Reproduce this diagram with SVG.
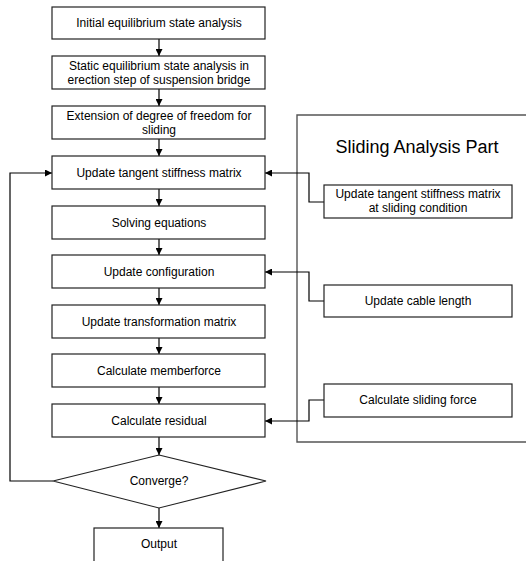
<svg xmlns="http://www.w3.org/2000/svg" width="526" height="561" viewBox="0 0 526 561">
<defs>
<marker id="ah" viewBox="0 0 10 10" refX="10" refY="5" markerWidth="7" markerHeight="7" markerUnits="userSpaceOnUse" orient="auto">
<path d="M0,0 L10,5 L0,10 z" fill="#000"/>
</marker>
<style>
.b{fill:#fff;stroke:#222;stroke-width:1.2}
.t{font-family:"Liberation Sans",Arial,sans-serif;font-size:12px;fill:#000;text-anchor:middle}
.c{fill:none;stroke:#000;stroke-width:1.2}
.f{fill:none;stroke:#555;stroke-width:1.4}
</style>
</defs>
<rect width="526" height="561" fill="#fff"/>
<g id="frame">
<path class="f" d="M526,115 H297 V442 H526"/>
<text x="417" y="153" style="font-family:'Liberation Sans',Arial,sans-serif;font-size:18px;text-anchor:middle">Sliding Analysis Part</text>
</g>
<g id="connectors">
<line class="c" x1="159" y1="39" x2="159" y2="56" marker-end="url(#ah)"/>
<line class="c" x1="159" y1="89" x2="159" y2="106" marker-end="url(#ah)"/>
<line class="c" x1="159" y1="139" x2="159" y2="156" marker-end="url(#ah)"/>
<line class="c" x1="159" y1="189" x2="159" y2="206" marker-end="url(#ah)"/>
<line class="c" x1="159" y1="239" x2="159" y2="255" marker-end="url(#ah)"/>
<line class="c" x1="159" y1="288" x2="159" y2="305" marker-end="url(#ah)"/>
<line class="c" x1="159" y1="338" x2="159" y2="354" marker-end="url(#ah)"/>
<line class="c" x1="159" y1="387" x2="159" y2="404" marker-end="url(#ah)"/>
<line class="c" x1="159" y1="437" x2="159" y2="455" marker-end="url(#ah)"/>
<line class="c" x1="159" y1="508" x2="159" y2="528" marker-end="url(#ah)"/>
<polyline class="c" points="53,481 10,481 10,173 52,173" marker-end="url(#ah)"/>
<polyline class="c" points="324,202 309,202 309,173 265,173" marker-end="url(#ah)"/>
<polyline class="c" points="324,301 309,301 309,272 265,272" marker-end="url(#ah)"/>
<polyline class="c" points="324,400 309,400 309,421 265,421" marker-end="url(#ah)"/>
</g>
<g id="n1"><rect class="b" x="52" y="7" width="213" height="32"/><text class="t" x="159" y="27">Initial equilibrium state analysis</text></g>
<g id="n2"><rect class="b" x="52" y="56" width="213" height="33"/><text class="t" x="159" y="70">Static equilibrium state analysis in</text><text class="t" x="159" y="84">erection step of suspension bridge</text></g>
<g id="n3"><rect class="b" x="52" y="106" width="213" height="33"/><text class="t" x="159" y="120">Extension of degree of freedom for</text><text class="t" x="159" y="134">sliding</text></g>
<g id="n4"><rect class="b" x="52" y="156" width="213" height="33"/><text class="t" x="159" y="177">Update tangent stiffness matrix</text></g>
<g id="n5"><rect class="b" x="52" y="206" width="213" height="33"/><text class="t" x="159" y="227">Solving equations</text></g>
<g id="n6"><rect class="b" x="52" y="255" width="213" height="33"/><text class="t" x="159" y="276">Update configuration</text></g>
<g id="n7"><rect class="b" x="52" y="305" width="213" height="33"/><text class="t" x="159" y="326">Update transformation matrix</text></g>
<g id="n8"><rect class="b" x="52" y="354" width="213" height="33"/><text class="t" x="159" y="375">Calculate memberforce</text></g>
<g id="n9"><rect class="b" x="52" y="404" width="213" height="33"/><text class="t" x="159" y="425">Calculate residual</text></g>
<g id="n10"><polygon class="b" points="159,455 266,481 159,508 53,481"/><text class="t" x="159" y="485">Converge?</text></g>
<g id="n11"><rect class="b" x="94" y="528" width="129" height="40"/><text class="t" x="159" y="548">Output</text></g>
<g id="s1"><rect class="b" x="324" y="185" width="188" height="33"/><text class="t" x="418" y="198">Update tangent stiffness matrix</text><text class="t" x="418" y="212">at sliding condition</text></g>
<g id="s2"><rect class="b" x="324" y="285" width="188" height="32"/><text class="t" x="418" y="305">Update cable length</text></g>
<g id="s3"><rect class="b" x="324" y="384" width="188" height="33"/><text class="t" x="418" y="404">Calculate sliding force</text></g>
</svg>
